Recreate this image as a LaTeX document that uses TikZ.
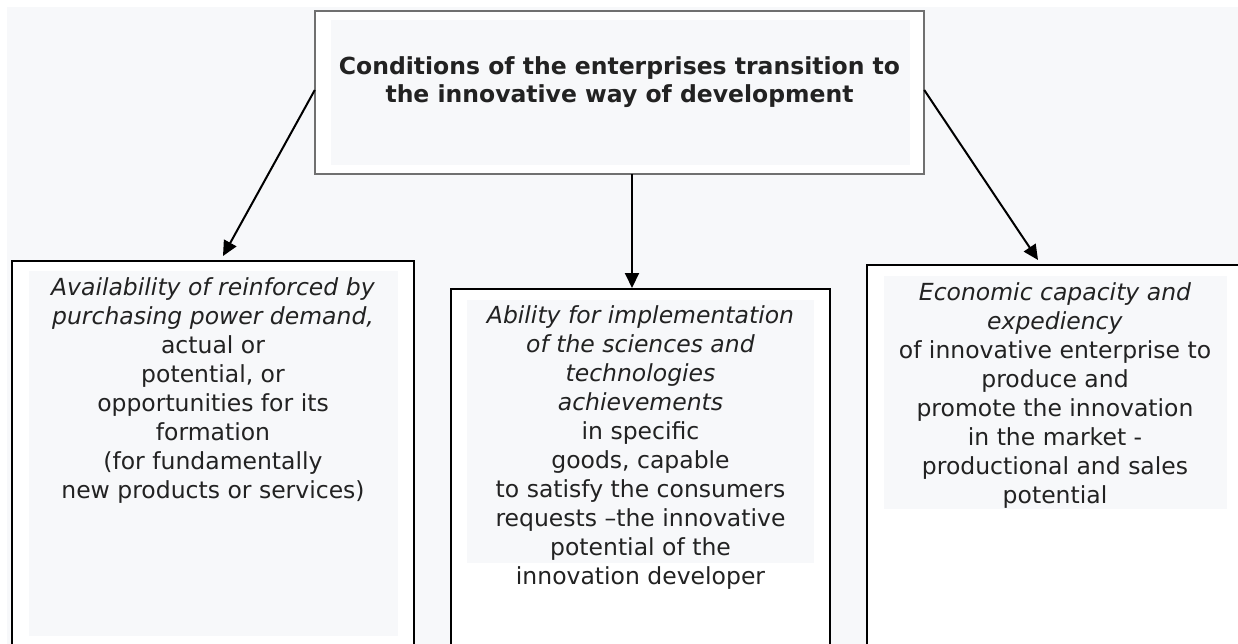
\documentclass[tikz,border=0pt]{standalone}
\usepackage{fontspec}
\setmainfont{DejaVu Sans}
\usetikzlibrary{arrows.meta}
\definecolor{bgc}{HTML}{F7F8FA}
\definecolor{txt}{HTML}{222222}
\definecolor{topline}{HTML}{707070}
\tikzset{
  lowbox/.style={draw=black, line width=2pt, fill=white},
  topbox/.style={draw=topline, line width=1.5pt, fill=white},
  innerfill/.style={fill=bgc},
  bodytext/.style={align=center, inner sep=0pt, anchor=north, text=txt,
    font=\fontsize{23.5}{29}\selectfont},
  titletext/.style={align=center, inner sep=0pt, anchor=north, text=txt,
    font=\bfseries\fontsize{23.5}{28}\selectfont},
  conn/.style={line width=2pt, -{Triangle[length=15pt,width=14pt]}}
}
\newcommand{\fl}{\rule{0pt}{18pt}}
\begin{document}
\begin{tikzpicture}[x=1pt,y=-1pt]
\useasboundingbox (0,0) rectangle (1238,644);
\fill[white] (0,0) rectangle (1238,644);
\fill[bgc] (7,7) rectangle (1238,644);
% top box
\path[topbox] (315,11) rectangle (924,174);
\node[inner sep=0pt, minimum width=609pt, minimum height=163pt] (top) at (619.5,92.5) {};
\fill[innerfill] (331,20) rectangle (910,165);
\node[titletext] (title) at (619.5,56) {\fl Conditions of the enterprises transition to\\the innovative way of development};
% lower boxes
\path[lowbox] (12,261) rectangle (414,680);
\fill[innerfill] (29,271) rectangle (398,636);
\path[lowbox] (451,289) rectangle (830,680);
\fill[innerfill] (467,300) rectangle (814,563);
\path[lowbox] (867,265) rectangle (1250,680);
\fill[innerfill] (884,276) rectangle (1227,509);
\coordinate (lb) at (223,256);
\coordinate (mb) at (632,288);
\coordinate (rb) at (1038,260);
\node[bodytext] (left) at (213,277) {\fl\textit{Availability of reinforced by}\\
\textit{purchasing power demand,}\\
actual or\\
potential, or\\
opportunities for its\\
formation\\
(for fundamentally\\
new products or services)};
\node[bodytext] (mid) at (640.5,305) {\fl\textit{Ability for implementation}\\
\textit{of the sciences and}\\
\textit{technologies}\\
\textit{achievements}\\
in specific\\
goods, capable\\
to satisfy the consumers\\
requests –the innovative\\
potential of the\\
innovation developer};
\node[bodytext] (right) at (1055,282) {\fl\textit{Economic capacity and}\\
\textit{expediency}\\
of innovative enterprise to\\
produce and\\
promote the innovation\\
in the market -\\
productional and sales\\
potential};
% connectors
\draw[conn] ([yshift=2.5pt]top.west) -- (lb);
\draw[conn] (top.south -| mb) -- (mb);
\draw[conn] ([yshift=2.5pt]top.east) -- (rb);
\end{tikzpicture}
\end{document}
